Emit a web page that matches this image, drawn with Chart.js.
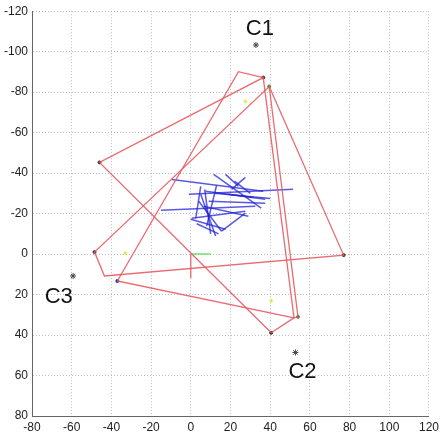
<!DOCTYPE html>
<html lang="en">
<head>
<meta charset="UTF-8">
<title>Posições C1 C2 C3</title>
<script src="https://cdn.jsdelivr.net/npm/chart.js"></script>
<style>
    body { margin: 0; background: #fff; }
    #janela { width: 443px; height: 440px; }
</style>
</head>
<body>
<div id="janela"><canvas id="myChart" width="443" height="440"></canvas></div>

<script>
    // eixos
    const xMin = -80, xMax = 120;
    const yMin = -120, yMax = 80;

    // contornos vermelhos
    const red1X = [40.5, -46, 36.5, 52, 40.5];
    const red1Y = [38.9, -45.3, -87.2, 31.5, 38.9];
    const red2X = [36.5, 24, -37, 52];
    const red2Y = [-87.2, -90.1, 13.3, 31.5];
    const red3X = [52, 54, 39.5, -48.5, -43.5, 77, 39.5];
    const red3Y = [31.5, 31, -82.8, -1, 10.8, 0.5, -82.8];

    // pequeno referencial na origem
    const axisRedX = [0, 0];
    const axisRedY = [0, 12];
    const axisGreenX = [0, 10];
    const axisGreenY = [0, 0];

    // segmentos azuis (inicio -> fim)
    const blueX1 = [-9.5, -1, -15, 11.5, 17.5, 27.5, 5, 5, 0, 4, 27.5, 0.5, 9, 19, 7.5, 6.5, 13, 7, 3, 12, 22];
    const blueY1 = [-36.9, -29.6, -21.7, -39.4, -39.4, -37.9, -33.5, -29.6, -17.2, -26.1, -20.2, -17.7, -26.1, -29.6, -31, -23.6, -34, -32, -15, -30, -36];
    const blueX2 = [36.5, 51.5, 32.5, 35.5, 24, 20.5, 2.5, 12.5, 17.5, 15.5, 15.5, 27.5, 37.5, 37.5, 31.5, 29, 8, 10, 14, 40, 30];
    const blueY2 = [-31, -32, -23.6, -22.7, -33.5, -32, -17.7, -8.9, -12.3, -11.3, -11.3, -21.2, -25.1, -27.1, -28, -18.7, -13.8, -10, -10, -27.5, -30];

    // marcadores nos vertices
    const darkX = [-46, 36.5, 77, 40.5, -48.5];
    const darkY = [-45.3, -87.2, 0.5, 38.9, -1];
    const greenX = [39.5, 54];
    const greenY = [-82.8, 31];
    const blueDotX = [-37];
    const blueDotY = [13.3];
    const yellowX = [27.5, -33, 40.5];
    const yellowY = [-75.4, -0.5, 23];

    // alvos
    const alvoNomes = ['C1', 'C2', 'C3'];
    const alvoX = [32.8, 52.7, -59.3];
    const alvoY = [-103.3, 48.6, 10.8];
    const rotuloX = [34.8, 56.3, -66.5];
    const rotuloY = [-111.8, 57.5, 20.7];

    function pts(xs, ys) {
        return xs.map((x, i) => ({ x: x, y: ys[i] }));
    }

    function linha(xs, ys, cor, largura) {
        return {
            data: pts(xs, ys),
            showLine: true,
            borderColor: cor,
            borderWidth: largura,
            pointRadius: 0,
            tension: 0,
            fill: false
        };
    }

    function pontos(xs, ys, cor, raio, estilo) {
        return {
            data: pts(xs, ys),
            showLine: false,
            pointStyle: estilo || 'circle',
            pointRadius: raio,
            pointBackgroundColor: cor,
            pointBorderColor: cor,
            pointBorderWidth: 1
        };
    }

    const datasets = [];
    const vermelho = 'rgba(232, 90, 95, 0.9)';
    datasets.push(linha(red1X, red1Y, vermelho, 1.3));
    datasets.push(linha(red2X, red2Y, vermelho, 1.3));
    datasets.push(linha(red3X, red3Y, vermelho, 1.3));
    datasets.push(linha(axisRedX, axisRedY, vermelho, 1.3));
    datasets.push(linha(axisGreenX, axisGreenY, 'rgba(80, 220, 80, 0.8)', 1.5));

    for (let i = 0; i < blueX1.length; i++) {
        datasets.push(linha([blueX1[i], blueX2[i]], [blueY1[i], blueY2[i]], 'rgba(35, 35, 215, 0.75)', 1.5));
    }

    datasets.push(pontos(darkX, darkY, '#333', 1.5));
    datasets.push(pontos(greenX, greenY, '#4a8a40', 1.5));
    datasets.push(pontos(blueDotX, blueDotY, '#2020c0', 1.5));
    datasets.push(pontos(yellowX, yellowY, '#e8e840', 1.3));
    datasets.push(pontos(alvoX, alvoY, '#444', 3, 'star'));

    // escreve C1, C2, C3 usando as escalas
    const rotulos = {
        id: 'rotulos',
        afterDatasetsDraw(chart) {
            const ctx = chart.ctx;
            const sx = chart.scales.x, sy = chart.scales.y;
            ctx.save();
            ctx.fillStyle = '#111';
            ctx.font = '22px "Liberation Sans", Arial, sans-serif';
            ctx.textAlign = 'center';
            ctx.textBaseline = 'middle';
            for (let i = 0; i < alvoNomes.length; i++) {
                ctx.fillText(alvoNomes[i], sx.getPixelForValue(rotuloX[i]), sy.getPixelForValue(rotuloY[i]) + 1);
            }
            ctx.restore();
        }
    };

    const fonteTicks = { family: '"Liberation Sans", Arial, sans-serif', size: 12 };

    new Chart(document.getElementById('myChart'), {
        type: 'scatter',
        data: { datasets: datasets },
        plugins: [rotulos],
        options: {
            responsive: false,
            animation: false,
            layout: { padding: { left: 0, right: 11, top: 10, bottom: 0 } },
            plugins: {
                legend: { display: false },
                tooltip: { enabled: false }
            },
            scales: {
                x: {
                    type: 'linear',
                    min: xMin,
                    max: xMax,
                    ticks: { stepSize: 20, color: '#222', font: fonteTicks, padding: 4, autoSkip: false, maxRotation: 0 },
                    grid: { color: '#bdbdbd', drawTicks: false },
                    border: { color: '#666', width: 1, dash: [1, 2] },
                    afterFit: s => { s.height = 24; }
                },
                y: {
                    type: 'linear',
                    reverse: true,
                    min: yMin,
                    max: yMax,
                    ticks: { stepSize: 20, color: '#222', font: fonteTicks, padding: 4 },
                    grid: { color: '#bdbdbd', drawTicks: false },
                    border: { color: '#666', width: 1, dash: [1, 2] },
                    afterFit: s => { s.width = 32; }
                }
            }
        }
    });
</script>
</body>
</html>
